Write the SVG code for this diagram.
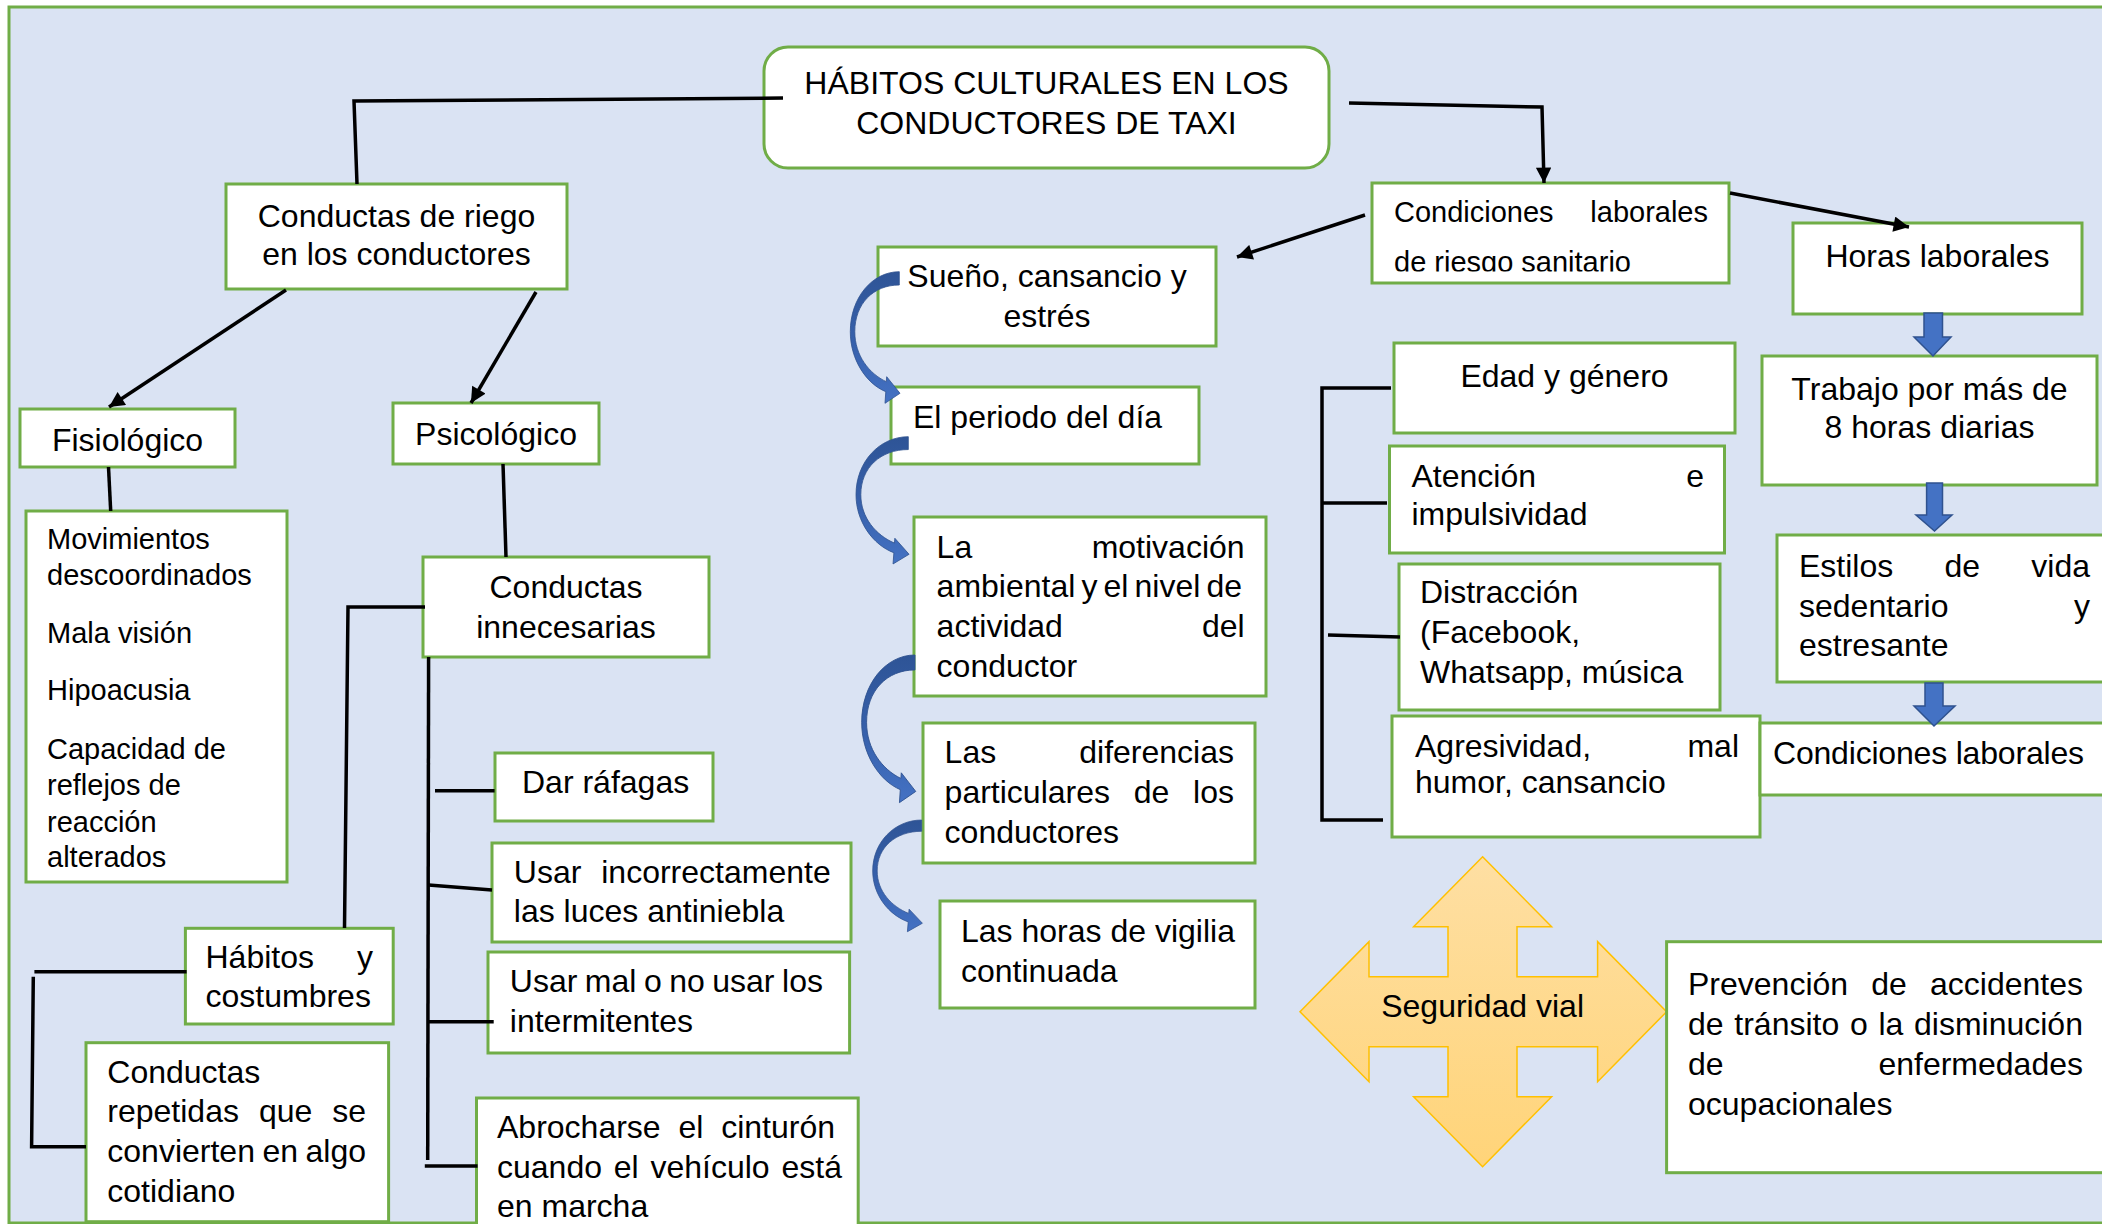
<svg xmlns="http://www.w3.org/2000/svg" xmlns:xlink="http://www.w3.org/1999/xlink" width="2102" height="1224" viewBox="0 0 2102 1224">
<defs>
<style>
.box{fill:#fff;stroke:#70AD47;stroke-width:3}
.t{font-family:"Liberation Sans",Arial,sans-serif;font-size:32px;fill:#000}
.s29{font-size:29px}
.mid{text-anchor:middle}
.end{text-anchor:end}
.ln{stroke:#000;stroke-width:3.5;fill:none;stroke-linecap:butt}
.blk{fill:#4472C4;stroke:#2F528F;stroke-width:1.5}
.crv{fill:url(#gBlue);stroke:#2F528F;stroke-width:0.8}
</style>
<marker id="ah" viewBox="0 0 10 10" refX="10" refY="5" markerWidth="4.8" markerHeight="4.4" orient="auto" markerUnits="strokeWidth">
<path d="M0,0 L10,5 L0,10 z" fill="#000"/>
</marker>
<linearGradient id="gBlue" x1="0" y1="0" x2="0" y2="1">
<stop offset="0" stop-color="#2E5496"/>
<stop offset="0.55" stop-color="#3761AC"/>
<stop offset="1" stop-color="#4472C4"/>
</linearGradient>
<linearGradient id="gOr" x1="0" y1="0" x2="0" y2="1">
<stop offset="0" stop-color="#FEDFA3"/>
<stop offset="1" stop-color="#FFD479"/>
</linearGradient>
<clipPath id="clipCL"><rect x="1372" y="183" width="357" height="88.5"/></clipPath>
<path id="curv" d="M0,0 C-27,0 -49,26 -49,60 C-49,88 -33,112 -13.5,120 L-14.3,131.6 L0.7,121.6 L-12.6,105 L-13,110 C-30,102 -44.5,84 -44.5,60 C-44.5,32 -26,13.3 0,13.3 Z"/>
</defs>
<rect x="0" y="0" width="2102" height="1224" fill="#fff"/>
<rect x="9" y="7" width="2110" height="1216" fill="#DAE3F3" stroke="#70AD47" stroke-width="3"/>

<g id="n-title">
<rect class="box" x="764" y="47" width="565" height="121" rx="24"/>
<text class="t mid" x="1046.5" y="93.5">HÁBITOS CULTURALES EN LOS</text>
<text class="t mid" x="1046.5" y="133.5">CONDUCTORES DE TAXI</text>
</g>

<g id="n-conductas-riesgo">
<rect class="box" x="226" y="184" width="341" height="105"/>
<text class="t mid" x="396.5" y="226.7">Conductas de riego</text>
<text class="t mid" x="396.5" y="265">en los conductores</text>
</g>

<g id="n-fisiologico">
<rect class="box" x="20" y="409" width="215" height="58"/>
<text class="t mid" x="127.5" y="451">Fisiológico</text>
</g>

<g id="n-fisio-lista">
<rect class="box" x="26" y="511" width="261" height="371"/>
<text class="t s29" x="47" y="549">Movimientos</text>
<text class="t s29" x="47" y="585">descoordinados</text>
<text class="t s29" x="47" y="643">Mala visión</text>
<text class="t s29" x="47" y="700">Hipoacusia</text>
<text class="t s29" x="47" y="759">Capacidad de</text>
<text class="t s29" x="47" y="795">reflejos de</text>
<text class="t s29" x="47" y="832">reacción</text>
<text class="t s29" x="47" y="867">alterados</text>
</g>

<g id="n-psicologico">
<rect class="box" x="393" y="403" width="206" height="61"/>
<text class="t mid" x="496" y="445">Psicológico</text>
</g>

<g id="n-innecesarias">
<rect class="box" x="423" y="557" width="286" height="100"/>
<text class="t mid" x="566" y="598">Conductas</text>
<text class="t mid" x="566" y="638">innecesarias</text>
</g>

<g id="n-rafagas">
<rect class="box" x="495" y="753" width="218" height="68"/>
<text class="t" x="522" y="792.5">Dar ráfagas</text>
</g>

<g id="n-antiniebla">
<rect class="box" x="492" y="843" width="359" height="99"/>
<text class="t" x="513.8" y="883.3">Usar</text>
<text class="t end" x="830.7" y="883.3">incorrectamente</text>
<text class="t" x="513.8" y="921.7">las luces antiniebla</text>
</g>

<g id="n-intermitentes">
<rect class="box" x="488" y="952" width="361.6" height="101"/>
<text class="t" x="509.8" y="991.7" word-spacing="-1.4">Usar mal o no usar los</text>
<text class="t" x="509.8" y="1031.7">intermitentes</text>
</g>

<g id="n-cinturon">
<rect class="box" x="476.5" y="1098" width="381.7" height="150"/>
<text class="t" x="497" y="1138">Abrocharse</text>
<text class="t" x="678.5" y="1138">el</text>
<text class="t end" x="835" y="1138">cinturón</text>
<text class="t" x="497" y="1178" word-spacing="2.9">cuando el vehículo está</text>
<text class="t" x="497" y="1216.7">en marcha</text>
</g>

<g id="n-habitos">
<rect class="box" x="185.4" y="928.3" width="207.8" height="95.7"/>
<text class="t" x="205.5" y="968">Hábitos</text>
<text class="t end" x="373" y="968">y</text>
<text class="t" x="205.5" y="1006.7">costumbres</text>
</g>

<g id="n-repetidas">
<rect class="box" x="86" y="1042.7" width="302.6" height="179"/>
<text class="t" x="107.3" y="1083">Conductas</text>
<text class="t" x="107.3" y="1121.7">repetidas</text>
<text class="t" x="258.9" y="1121.7">que</text>
<text class="t end" x="366" y="1121.7">se</text>
<text class="t" x="107.3" y="1161.7" word-spacing="-1.4">convierten en algo</text>
<text class="t" x="107.3" y="1201.7">cotidiano</text>
</g>

<g id="n-condiciones-riesgo">
<rect class="box" x="1372" y="183" width="357" height="100"/>
<g clip-path="url(#clipCL)">
<text class="t s29" x="1394" y="221.7">Condiciones</text>
<text class="t s29 end" x="1708" y="221.7">laborales</text>
<text class="t s29" x="1394" y="272">de riesgo sanitario</text>
</g>
</g>

<g id="n-sueno">
<rect class="box" x="878" y="247" width="338" height="99"/>
<text class="t mid" x="1047" y="287">Sueño, cansancio y</text>
<text class="t mid" x="1047" y="327">estrés</text>
</g>

<g id="n-periodo">
<rect class="box" x="891" y="387" width="308" height="77"/>
<text class="t" x="913" y="428">El periodo del día</text>
</g>

<g id="n-motivacion">
<rect class="box" x="914" y="517" width="352" height="179"/>
<text class="t" x="936.6" y="558">La</text>
<text class="t end" x="1244.6" y="558">motivación</text>
<text class="t" x="936.6" y="597" word-spacing="-2.8">ambiental y el nivel de</text>
<text class="t" x="936.6" y="637">actividad</text>
<text class="t end" x="1244.6" y="637">del</text>
<text class="t" x="936.6" y="677">conductor</text>
</g>

<g id="n-diferencias">
<rect class="box" x="923" y="723" width="332" height="140"/>
<text class="t" x="944.6" y="763">Las</text>
<text class="t end" x="1234" y="763">diferencias</text>
<text class="t" x="944.6" y="803">particulares</text>
<text class="t" x="1133.8" y="803">de</text>
<text class="t end" x="1234" y="803">los</text>
<text class="t" x="944.6" y="843">conductores</text>
</g>

<g id="n-vigilia">
<rect class="box" x="940" y="901" width="315" height="107"/>
<text class="t" x="961" y="942">Las horas de vigilia</text>
<text class="t" x="961" y="982">continuada</text>
</g>

<g id="n-edad">
<rect class="box" x="1394" y="343" width="341" height="90"/>
<text class="t mid" x="1564.5" y="387">Edad y género</text>
</g>

<g id="n-atencion">
<rect class="box" x="1389.5" y="446" width="335" height="107"/>
<text class="t" x="1411.5" y="487">Atención</text>
<text class="t end" x="1704" y="487">e</text>
<text class="t" x="1411.5" y="525">impulsividad</text>
</g>

<g id="n-distraccion">
<rect class="box" x="1399" y="564" width="321" height="146"/>
<text class="t" x="1420" y="603">Distracción</text>
<text class="t" x="1420" y="643">(Facebook,</text>
<text class="t" x="1420" y="683">Whatsapp, música</text>
</g>

<g id="n-agresividad">
<rect class="box" x="1392" y="716" width="368" height="121"/>
<text class="t" x="1415" y="757">Agresividad,</text>
<text class="t end" x="1739" y="757">mal</text>
<text class="t" x="1415" y="793">humor, cansancio</text>
</g>

<g id="n-horas">
<rect class="box" x="1793" y="223" width="289" height="91"/>
<text class="t mid" x="1937.5" y="267">Horas laborales</text>
</g>

<g id="n-trabajo">
<rect class="box" x="1762" y="356" width="335" height="129"/>
<text class="t mid" x="1929.5" y="400">Trabajo por más de</text>
<text class="t mid" x="1929.5" y="438">8 horas diarias</text>
</g>

<g id="n-estilos">
<rect class="box" x="1777" y="535" width="340" height="147"/>
<text class="t" x="1799" y="577">Estilos</text>
<text class="t" x="1944.5" y="577">de</text>
<text class="t end" x="2090" y="577">vida</text>
<text class="t" x="1799" y="617">sedentario</text>
<text class="t end" x="2090" y="617">y</text>
<text class="t" x="1799" y="656">estresante</text>
</g>

<g id="n-condiciones">
<rect class="box" x="1760" y="723" width="357" height="72"/>
<text class="t" x="1773" y="763.5" textLength="311" lengthAdjust="spacing">Condiciones laborales</text>
</g>

<g id="n-seguridad">
<path d="M1482.6,856.7 L1551.6,926.7 L1517,926.7 L1517,976.7 L1597.6,976.7 L1597.6,941.7 L1666.6,1011.7 L1597.6,1081.7 L1597.6,1046.7 L1517,1046.7 L1517,1096.7 L1551.6,1096.7 L1482.6,1166.7 L1413.6,1096.7 L1448,1096.7 L1448,1046.7 L1369,1046.7 L1369,1081.7 L1300,1011.7 L1369,941.7 L1369,976.7 L1448,976.7 L1448,926.7 L1413.6,926.7 Z" fill="url(#gOr)" stroke="#FFC000" stroke-width="1.5"/>
<text class="t mid" x="1482.6" y="1016.7">Seguridad vial</text>
</g>

<g id="n-prevencion">
<rect class="box" x="1666.6" y="941.7" width="450" height="231"/>
<text class="t" x="1688" y="995">Prevención</text>
<text class="t" x="1871.2" y="995">de</text>
<text class="t end" x="2083" y="995">accidentes</text>
<text class="t" x="1688" y="1035" word-spacing="1.8">de tránsito o la disminución</text>
<text class="t" x="1688" y="1075">de</text>
<text class="t end" x="2083" y="1075">enfermedades</text>
<text class="t" x="1688" y="1115">ocupacionales</text>
</g>

<g id="connectors">
<polyline class="ln" points="357,184 354,101 783,98"/>
<polyline class="ln" points="1349,103 1542,107 1544,183" marker-end="url(#ah)"/>
<line class="ln" x1="286" y1="290" x2="109" y2="407" marker-end="url(#ah)"/>
<line class="ln" x1="536" y1="292" x2="471" y2="403" marker-end="url(#ah)"/>
<line class="ln" x1="108.5" y1="467" x2="110.7" y2="511"/>
<line class="ln" x1="503" y1="464" x2="506" y2="557"/>
<line class="ln" x1="1365" y1="215" x2="1237" y2="257" marker-end="url(#ah)"/>
<line class="ln" x1="1730" y1="193" x2="1909" y2="227" marker-end="url(#ah)"/>
<polyline class="ln" points="425,607 348,607 344.5,928"/>
<line class="ln" x1="428.6" y1="657" x2="427.7" y2="1160"/>
<line class="ln" x1="435" y1="790.7" x2="494.6" y2="790.7"/>
<line class="ln" x1="428.6" y1="885" x2="492" y2="890"/>
<line class="ln" x1="429" y1="1021.7" x2="493.7" y2="1021.7"/>
<line class="ln" x1="424.8" y1="1166" x2="477.6" y2="1166"/>
<line class="ln" x1="34.4" y1="971.7" x2="186.6" y2="971.7"/>
<polyline class="ln" points="33.3,976.7 31.6,1146.7 86,1146.7"/>
<polyline class="ln" points="1391,388 1322,388 1322,820 1383,820"/>
<line class="ln" x1="1322" y1="503" x2="1387" y2="503"/>
<line class="ln" x1="1328" y1="635" x2="1400" y2="637"/>
<path class="blk" d="M1924,313 L1942.5,313 L1942.5,337 L1951,337 L1933,356 L1914,337 L1924,337 Z"/>
<path class="blk" d="M1926.6,483 L1942.5,483 L1942.5,515 L1952,515 L1934.5,531 L1916,515 L1926.6,515 Z"/>
<path class="blk" d="M1925,683 L1943,683 L1943,706 L1955,706 L1934,726 L1914,706 L1925,706 Z"/>
<use xlink:href="#curv" class="crv" transform="translate(899.3,271.7)"/>
<use xlink:href="#curv" class="crv" transform="translate(908.3,436.7) scale(1.067,0.967)"/>
<use xlink:href="#curv" class="crv" transform="translate(915,655) scale(1.088,1.122)"/>
<use xlink:href="#curv" class="crv" transform="translate(921.7,820) scale(1,0.849)"/>
</g>
</svg>
